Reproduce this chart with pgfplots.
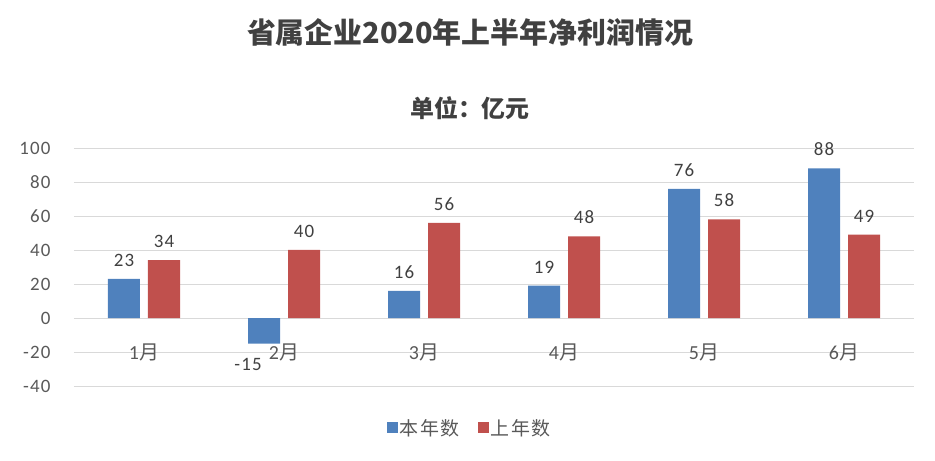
\documentclass[border=0pt]{standalone}
\usepackage{pgfplots}
\pgfplotsset{compat=1.18}
\usepackage{fontspec}
\setmainfont{Carlito}
\newfontfamily\cjk{Noto Sans CJK SC}
\newfontfamily\cjkl[LetterSpace=8]{Noto Sans CJK SC}
\newfontfamily\numl[LetterSpace=6]{Carlito}
\definecolor{bblue}{HTML}{4F81BD}
\definecolor{bred}{HTML}{C0504D}
\definecolor{txt}{HTML}{595959}
\definecolor{ttl}{HTML}{404040}
\begin{document}
\begin{tikzpicture}
\useasboundingbox (-74bp,-75bp) rectangle (861bp,386bp);
\begin{axis}[
  scale only axis, width=840bp, height=238bp,
  ymin=-40, ymax=100, ytick={-40,-20,...,100},
  xmin=-0.5, xmax=5.5, xtick=data,
  xticklabels={1{\cjk 月},2{\cjk 月},3{\cjk 月},4{\cjk 月},5{\cjk 月},6{\cjk 月}},
  ybar=8bp, bar width=32bp,
  axis line style={draw=none}, major tick length=0pt,
  ymajorgrids, grid style={draw=black!15, line width=0.8bp},
  /pgf/number format/assume math mode=true,
  yticklabel style={font=\numl\fontsize{19}{19}\selectfont, text=txt, xshift=-20bp},
  xticklabel style={font=\numl\fontsize{20}{20}\selectfont, text=txt, anchor=center, yshift=34bp},
  nodes near coords,
  nodes near coords style={font=\numl\fontsize{19}{19}\selectfont, text=ttl, yshift=9bp},
  coordinate style/.condition={y<0}{xshift=-16bp, yshift=-20bp},
  legend style={at={(axis description cs:0.471,-0.176)}, anchor=center, draw=none,
    font=\cjkl\fontsize{19}{19}\selectfont, text=txt,
    /tikz/every even column/.append style={column sep=16bp}},
  legend columns=2,
  legend image code/.code={\fill[#1] (0bp,-5.5bp) rectangle (11bp,5.5bp);},
]
\addplot[fill=bblue, draw=none] coordinates {(0,23) (1,-15) (2,16) (3,19) (4,76) (5,88)};
\addplot[fill=bred, draw=none] coordinates {(0,34) (1,40) (2,56) (3,48) (4,58) (5,49)};
\legend{本年数,上年数}
\end{axis}
\node[text=ttl, font=\cjk\bfseries\fontsize{29}{29}\selectfont] at (396bp,354bp) {省属企业2020年上半年净利润情况};
\node[text=ttl, font=\cjk\bfseries\fontsize{24}{24}\selectfont] at (396bp,278bp) {单位：亿元};
\end{tikzpicture}
\end{document}
